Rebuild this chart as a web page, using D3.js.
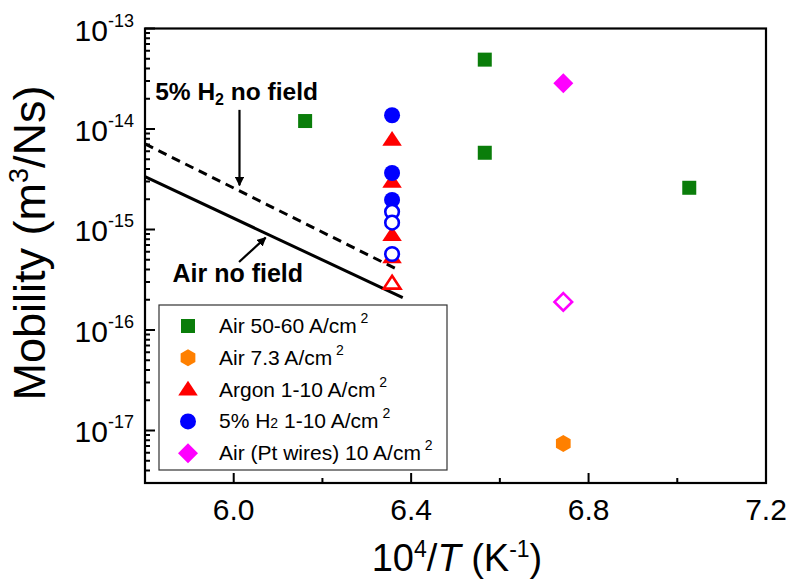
<!DOCTYPE html>
<html>
<head>
<meta charset="utf-8">
<script src="https://cdn.jsdelivr.net/npm/d3@7"></script>
<style>
  body { margin: 0; background: #fff; }
  svg { display: block; font-family: "Liberation Sans", Arial, sans-serif; }
</style>
</head>
<body>
<svg id="chart" width="788" height="580"></svg>
<script>
// ---- data ----
const airHighX = [6.161, 6.566, 6.566, 7.027];
const airHighY = [1.2e-14, 4.9e-14, 5.8e-15, 2.6e-15];

const air73X = [6.743];
const air73Y = [7.4e-18];

const argonX = [6.357, 6.357, 6.357, 6.357];
const argonY = [7.8e-15, 2.98e-15, 8.8e-16, 5.3e-16];
const argonOpenX = [6.357];
const argonOpenY = [2.9e-16];

const h2X = [6.357, 6.357, 6.357];
const h2Y = [1.37e-14, 3.65e-15, 1.97e-15];
const h2OpenX = [6.357, 6.357, 6.357];
const h2OpenY = [1.5e-15, 1.17e-15, 5.7e-16];

const ptX = [6.743];
const ptY = [2.85e-14];
const ptOpenX = [6.743];
const ptOpenY = [1.9e-16];

// "no field" fits
const airNoFieldX = [5.8, 6.381];
const airNoFieldY = [3.35e-15, 2.1e-16];
const h2NoFieldX = [5.8, 6.369];
const h2NoFieldY = [7.1e-15, 4.0e-16];

const xMajorTicks = [6.0, 6.4, 6.8, 7.2];
const xMinorTicks = [6.2, 6.6, 7.0];
const yMajorTicks = [1e-13, 1e-14, 1e-15, 1e-16, 1e-17];
const yExponents = ["-13", "-14", "-15", "-16", "-17"];

const legendLabels = ["Air 50-60 A/cm", "Air 7.3 A/cm", "Argon 1-10 A/cm", "5% H", "Air (Pt wires) 10 A/cm"];

// ---- layout ----
const svg = d3.select("#chart");
const plotLeft = 145, plotRight = 766, plotTop = 28.5, plotBottom = 483;

const x = d3.scaleLinear().domain([5.8, 7.2]).range([plotLeft, plotRight]);
const y = d3.scaleLog().domain([3e-18, 1e-13]).range([plotBottom, plotTop]);

const zip = (xs, ys) => xs.map((v, i) => [v, ys[i]]);

// marker shapes
function markerPath(type, r) {
  const p = d3.path();
  if (type === "square") {
    p.rect(-r, -r, 2 * r, 2 * r);
  } else if (type === "circle") {
    p.arc(0, 0, r, 0, 2 * Math.PI);
  } else if (type === "triangle") {
    const h = r * 1.75;
    p.moveTo(0, -h * 0.6); p.lineTo(r * 1.15, h * 0.4); p.lineTo(-r * 1.15, h * 0.4); p.closePath();
  } else if (type === "diamond") {
    p.moveTo(0, -r); p.lineTo(r, 0); p.lineTo(0, r); p.lineTo(-r, 0); p.closePath();
  } else if (type === "hexagon") {
    for (let i = 0; i < 6; i++) {
      const a = Math.PI / 2 + i * Math.PI / 3;
      const px = r * Math.cos(a), py = r * Math.sin(a);
      if (i === 0) p.moveTo(px, py); else p.lineTo(px, py);
    }
    p.closePath();
  }
  return p.toString();
}

const sizes = { square: 7, circle: 8, triangle: 8.5, diamond: 10, hexagon: 8.5 };

// ---- fit lines ----
const fitLine = d3.line().x(d => x(d[0])).y(d => y(d[1]));
svg.append("path").attr("d", fitLine(zip(airNoFieldX, airNoFieldY)))
  .attr("fill", "none").attr("stroke", "#000").attr("stroke-width", 3);
svg.append("path").attr("d", fitLine(zip(h2NoFieldX, h2NoFieldY)))
  .attr("fill", "none").attr("stroke", "#000").attr("stroke-width", 3)
  .attr("stroke-dasharray", "9,6");

// ---- points ----
function drawSeries(pts, type, color, open) {
  svg.append("g").selectAll("path").data(pts).join("path")
    .attr("transform", d => `translate(${x(d[0])},${y(d[1])})`)
    .attr("d", markerPath(type, open ? sizes[type] - 1.2 : sizes[type]))
    .attr("fill", open ? "#fff" : color)
    .attr("stroke", color)
    .attr("stroke-width", open ? 2.6 : 0);
}
drawSeries(zip(airHighX, airHighY), "square", "#0a7d0a", false);
drawSeries(zip(air73X, air73Y), "hexagon", "#ff8000", false);
drawSeries(zip(argonX, argonY), "triangle", "#ff0000", false);
drawSeries(zip(argonOpenX, argonOpenY), "triangle", "#ff0000", true);
drawSeries(zip(h2X, h2Y), "circle", "#0000ff", false);
drawSeries(zip(h2OpenX, h2OpenY), "circle", "#0000ff", true);
drawSeries(zip(ptX, ptY), "diamond", "#ff00ff", false);
drawSeries(zip(ptOpenX, ptOpenY), "diamond", "#ff00ff", true);

// ---- annotations ----
svg.append("defs").append("marker")
  .attr("id", "arrow").attr("viewBox", "0 0 10 10").attr("refX", 9).attr("refY", 5)
  .attr("markerWidth", 4.2).attr("markerHeight", 4.2).attr("orient", "auto")
  .append("path").attr("d", "M0,0 L10,5 L0,10 z").attr("fill", "#000");

const ann1 = svg.append("text").attr("x", x(5.823)).attr("y", y(1.95e-14))
  .attr("font-size", 24.5).attr("font-weight", "bold");
ann1.append("tspan").text("5% H");
ann1.append("tspan").text("2").attr("font-size", 16).attr("dy", 5);
ann1.append("tspan").text(" no field").attr("dy", -5);
svg.append("line").attr("x1", x(6.013)).attr("y1", y(1.55e-14))
  .attr("x2", x(6.013)).attr("y2", y(2.75e-15))
  .attr("stroke", "#000").attr("stroke-width", 2.2).attr("marker-end", "url(#arrow)");

svg.append("text").attr("x", x(5.862)).attr("y", y(3.0e-16))
  .attr("font-size", 25).attr("font-weight", "bold").text("Air no field");
svg.append("line").attr("x1", x(6.012)).attr("y1", y(4.75e-16))
  .attr("x2", x(6.072)).attr("y2", y(8.3e-16))
  .attr("stroke", "#000").attr("stroke-width", 2.2).attr("marker-end", "url(#arrow)");

// ---- ticks (inward, drawn as one path) ----
const yMinorTicks = [];
for (let e = -18; e <= -14; e++) {
  for (let m = 2; m <= 9; m++) {
    const v = m * Math.pow(10, e);
    if (v >= 3e-18 && v < 1e-13) yMinorTicks.push(v);
  }
}
const tp = d3.path();
yMajorTicks.forEach(v => { tp.moveTo(plotLeft, y(v)); tp.lineTo(plotLeft + 10, y(v)); });
yMinorTicks.forEach(v => { tp.moveTo(plotLeft, y(v)); tp.lineTo(plotLeft + 5, y(v)); });
xMajorTicks.forEach(v => { tp.moveTo(x(v), plotBottom); tp.lineTo(x(v), plotBottom - 10); });
xMinorTicks.forEach(v => { tp.moveTo(x(v), plotBottom); tp.lineTo(x(v), plotBottom - 5); });
svg.append("path").attr("d", tp.toString())
  .attr("fill", "none").attr("stroke", "#000").attr("stroke-width", 2);

// frame
svg.append("rect").attr("x", plotLeft).attr("y", plotTop)
  .attr("width", plotRight - plotLeft).attr("height", plotBottom - plotTop)
  .attr("fill", "none").attr("stroke", "#000").attr("stroke-width", 2.2);

// tick labels
svg.append("g").selectAll("text").data(xMajorTicks).join("text")
  .attr("x", d => x(d)).attr("y", 520)
  .attr("text-anchor", "middle").attr("font-size", 30)
  .text(d => d.toFixed(1));

const yl = svg.append("g").selectAll("text").data(yMajorTicks).join("text")
  .attr("x", 134).attr("y", d => y(d) + 12)
  .attr("text-anchor", "end").attr("font-size", 30);
yl.append("tspan").text("10");
yl.append("tspan").attr("font-size", 18).attr("dy", -14).text((d, i) => yExponents[i]);

// axis titles
const yt = svg.append("text").attr("transform", "translate(45,243) rotate(-90)")
  .attr("text-anchor", "middle").attr("font-size", 45);
yt.append("tspan").text("Mobility (m");
yt.append("tspan").text("3").attr("font-size", 27).attr("dy", -17);
yt.append("tspan").text("/Ns)").attr("dy", 17);

const xt = svg.append("text").attr("x", 457).attr("y", 571)
  .attr("text-anchor", "middle").attr("font-size", 38);
xt.append("tspan").text("10");
xt.append("tspan").text("4").attr("font-size", 23).attr("dy", -14);
xt.append("tspan").text("/").attr("dy", 14);
xt.append("tspan").text("T").attr("font-style", "italic");
xt.append("tspan").text(" (K");
xt.append("tspan").text("-1").attr("font-size", 23).attr("dy", -14);
xt.append("tspan").text(")").attr("dy", 14);

// ---- legend ----
const legend = svg.append("g");
legend.append("rect").attr("x", 159).attr("y", 305).attr("width", 288).attr("height", 165)
  .attr("fill", "#fff").attr("stroke", "#333").attr("stroke-width", 1.2);
const legendTypes = ["square", "hexagon", "triangle", "circle", "diamond"];
const legendColors = ["#0a7d0a", "#ff8000", "#ff0000", "#0000ff", "#ff00ff"];
const rows = legend.selectAll("g.row").data(legendLabels).join("g")
  .attr("class", "row")
  .attr("transform", (d, i) => `translate(0,${326 + i * 31.8})`);
rows.append("path")
  .attr("transform", "translate(188,0)")
  .attr("d", (d, i) => markerPath(legendTypes[i], sizes[legendTypes[i]]))
  .attr("fill", (d, i) => legendColors[i]);
const lt = rows.append("text").attr("x", 219).attr("y", 7).attr("font-size", 21);
lt.each(function (d, i) {
  const t = d3.select(this);
  t.append("tspan").text(d);
  if (i === 3) {
    t.append("tspan").text("2").attr("font-size", 14);
    t.append("tspan").text(" 1-10 A/cm");
  }
  t.append("tspan").text(" 2").attr("font-size", 14).attr("dy", -10);
});
</script>
</body>
</html>
